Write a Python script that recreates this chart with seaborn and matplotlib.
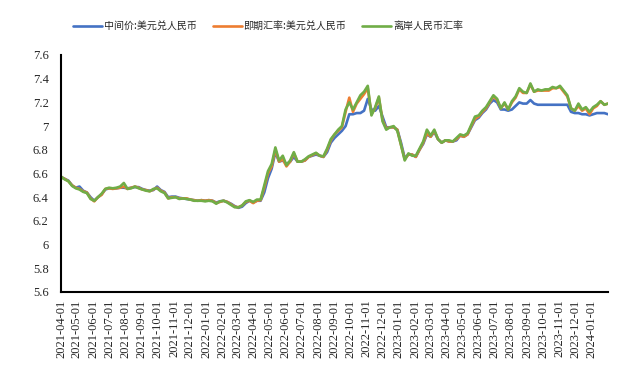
import numpy as np
import pandas as pd
import matplotlib
matplotlib.use('Agg')
import matplotlib.pyplot as plt
import seaborn as sns

dates = pd.date_range('2021-04-01', periods=149, freq='7D')

mid_rate = [  # 中间价:美元兑人民币
    6.57, 6.555, 6.54, 6.50, 6.48,
    6.49, 6.455, 6.44, 6.40,
    6.37, 6.40, 6.425, 6.465,
    6.475, 6.475, 6.475, 6.48, 6.48,
    6.475, 6.48, 6.485, 6.485,
    6.47, 6.46, 6.455, 6.46, 6.49,
    6.46, 6.445, 6.40, 6.405,
    6.405, 6.395, 6.39, 6.385,
    6.38, 6.375, 6.37, 6.375, 6.37,
    # 2022
    6.375, 6.37, 6.355, 6.365,
    6.37, 6.36, 6.345, 6.325,
    6.31, 6.32, 6.35, 6.37, 6.355,
    6.37, 6.37, 6.44, 6.56,
    6.64, 6.78, 6.70, 6.71,
    6.68, 6.70, 6.74, 6.70, 6.70,
    6.71, 6.74, 6.75, 6.76,
    6.75, 6.74, 6.78, 6.86,
    6.90, 6.93, 6.96, 7.00, 7.10,
    7.10, 7.11, 7.11, 7.13,
    7.23, 7.14, 7.13, 7.17,
    7.08, 6.99, 6.99, 6.99, 6.97,
    # 2023
    6.86, 6.73, 6.76, 6.76,
    6.74, 6.80, 6.85, 6.93,
    6.91, 6.95, 6.89, 6.86, 6.88,
    6.87, 6.87, 6.88, 6.92,
    6.91, 6.93, 6.99, 7.05,
    7.07, 7.11, 7.14, 7.19, 7.22,
    7.20, 7.14, 7.14, 7.13,
    7.14, 7.17, 7.20, 7.19, 7.19,
    7.22, 7.19, 7.18, 7.18,
    7.18, 7.18, 7.18, 7.18,
    7.18, 7.18, 7.18, 7.12, 7.11,
    7.11, 7.10, 7.10, 7.09,
    # 2024
    7.10, 7.11, 7.11, 7.11, 7.10,
]

spot_rate = [  # 即期汇率:美元兑人民币
    6.57, 6.555, 6.535, 6.50, 6.48,
    6.47, 6.45, 6.44, 6.39,
    6.365, 6.40, 6.42, 6.47,
    6.475, 6.47, 6.475, 6.48, 6.49,
    6.47, 6.48, 6.49, 6.48,
    6.465, 6.46, 6.45, 6.465, 6.48,
    6.455, 6.44, 6.39, 6.40,
    6.40, 6.39, 6.39, 6.39,
    6.38, 6.375, 6.37, 6.375, 6.37,
    # 2022
    6.375, 6.37, 6.35, 6.36,
    6.37, 6.36, 6.34, 6.32,
    6.315, 6.33, 6.36, 6.37, 6.35,
    6.37, 6.375, 6.48, 6.60,
    6.66, 6.80, 6.70, 6.72,
    6.66, 6.70, 6.77, 6.70, 6.70,
    6.71, 6.74, 6.755, 6.77,
    6.75, 6.74, 6.80, 6.88,
    6.93, 6.96, 6.99, 7.12, 7.24,
    7.12, 7.19, 7.23, 7.27,
    7.32, 7.10, 7.15, 7.24,
    7.05, 6.98, 6.99, 6.99, 6.97,
    # 2023
    6.84, 6.72, 6.76, 6.76,
    6.74, 6.80, 6.86, 6.94,
    6.91, 6.96, 6.89, 6.86, 6.88,
    6.87, 6.87, 6.89, 6.92,
    6.91, 6.93, 7.00, 7.06,
    7.08, 7.12, 7.15, 7.20, 7.25,
    7.22, 7.15, 7.19, 7.14,
    7.20, 7.24, 7.31, 7.28, 7.28,
    7.35, 7.29, 7.30, 7.30,
    7.30, 7.30, 7.32, 7.32,
    7.33, 7.29, 7.25, 7.15, 7.13,
    7.17, 7.13, 7.15, 7.10,
    # 2024
    7.15, 7.17, 7.21, 7.18, 7.19,
]

cnh_rate = [  # 离岸人民币汇率
    6.575, 6.55, 6.535, 6.495, 6.475,
    6.465, 6.445, 6.435, 6.385,
    6.37, 6.40, 6.43, 6.47,
    6.48, 6.475, 6.48, 6.49, 6.52,
    6.47, 6.475, 6.49, 6.475,
    6.465, 6.455, 6.45, 6.47, 6.475,
    6.45, 6.435, 6.39, 6.395,
    6.40, 6.385, 6.39, 6.385,
    6.38, 6.37, 6.37, 6.37, 6.365,
    # 2022
    6.37, 6.365, 6.345, 6.365,
    6.37, 6.355, 6.335, 6.315,
    6.315, 6.33, 6.365, 6.375, 6.36,
    6.38, 6.38, 6.50, 6.62,
    6.68, 6.82, 6.71, 6.75,
    6.67, 6.71, 6.78, 6.70, 6.70,
    6.72, 6.745, 6.76, 6.775,
    6.75, 6.745, 6.81, 6.89,
    6.93, 6.97, 7.00, 7.14, 7.20,
    7.14, 7.20, 7.26, 7.29,
    7.34, 7.09, 7.16, 7.25,
    7.04, 6.97, 6.99, 7.00, 6.96,
    # 2023
    6.84, 6.71, 6.77, 6.75,
    6.75, 6.81, 6.87, 6.97,
    6.92, 6.97, 6.89, 6.86, 6.88,
    6.88, 6.87, 6.90, 6.93,
    6.92, 6.94, 7.01, 7.08,
    7.09, 7.13, 7.16, 7.21, 7.26,
    7.23, 7.15, 7.20, 7.14,
    7.21, 7.25, 7.32, 7.29, 7.28,
    7.36, 7.29, 7.31, 7.30,
    7.31, 7.31, 7.33, 7.32,
    7.34, 7.30, 7.26, 7.15, 7.13,
    7.19, 7.14, 7.16, 7.12,
    # 2024
    7.16, 7.18, 7.21, 7.18, 7.19,
]

names = ['中间价:美元兑人民币', '即期汇率:美元兑人民币', '离岸人民币汇率']
colors = ['#4472C4', '#ED7D31', '#70AD47']

df = pd.concat([
    pd.DataFrame({'date': dates, 'value': mid_rate, 'series': names[0]}),
    pd.DataFrame({'date': dates, 'value': spot_rate, 'series': names[1]}),
    pd.DataFrame({'date': dates, 'value': cnh_rate, 'series': names[2]}),
])

sns.set_style('white')
plt.rcParams['font.family'] = ['Liberation Serif', 'Noto Sans CJK SC']

fig = plt.figure(figsize=(6.39, 3.67), dpi=100)
ax = fig.add_axes([61/639, 75/367, 547/639, 237/367])

sns.lineplot(data=df, x='date', y='value', hue='series', hue_order=names,
             palette=colors, linewidth=1.9, legend=False, ax=ax)

ax.set_xlim(pd.Timestamp('2021-04-01'), pd.Timestamp('2024-02-01'))
ax.set_ylim(5.6, 7.6)
yt = np.arange(5.6, 7.61, 0.2)
ax.set_yticks(yt)
ax.set_yticklabels([('%.1f' % v).rstrip('0').rstrip('.') for v in yt], fontsize=9)

months = pd.date_range('2021-04-01', '2024-02-01', freq='MS')
ax.set_xticks(months)
labels = [m.strftime('%Y-%m-%d') for m in months]
labels[-1] = ''
ax.set_xticklabels(labels, rotation=90, fontsize=9)
ax.set_xlabel('')
ax.set_ylabel('')

for s in ['top', 'right']:
    ax.spines[s].set_visible(False)
for s in ['left', 'bottom']:
    ax.spines[s].set_color('black')
    ax.spines[s].set_linewidth(1.5)
ax.tick_params(axis='x', direction='inout', length=7, width=1.5, pad=2)
ax.tick_params(axis='y', direction='out', length=3, width=1.5, pad=6)

handles = ax.get_lines()[:3]
fig.legend(handles, names, loc='center', bbox_to_anchor=(268/639, 1 - 26/367),
           ncol=3, frameon=False, handlelength=2.9, handletextpad=0.2,
           columnspacing=1.6, prop={'family': 'Noto Sans CJK SC', 'size': 7.2})

fig.savefig('out.png', dpi=100)
